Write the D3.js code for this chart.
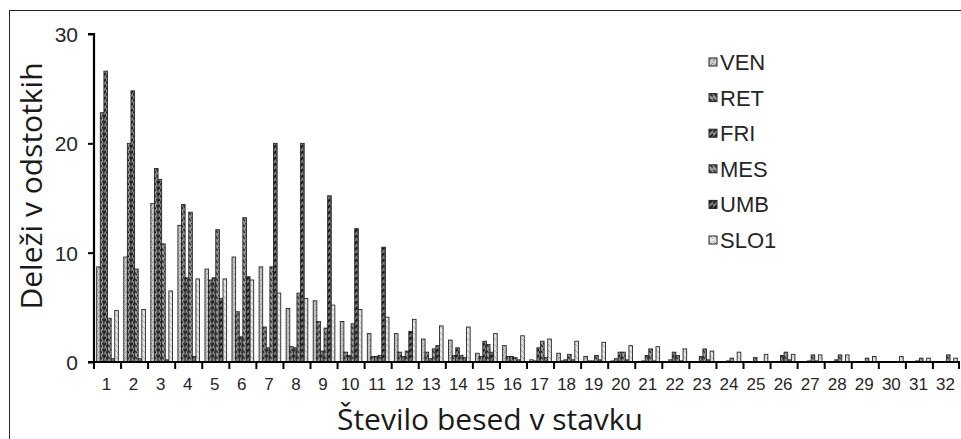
<!DOCTYPE html>
<html>
<head>
<meta charset="utf-8">
<script src="https://cdn.jsdelivr.net/npm/d3@7"></script>
<style>
  body { margin: 0; background: #fff; }
  svg { display: block; }
  .tick-label { font-family: "Liberation Sans", Arial, sans-serif; font-size: 17px; fill: #262626; }
  .y-label { font-size: 21px; }
  .title { font-family: "Open Sans", sans-serif; font-size: 30px; fill: #1a1a1a; }
  .legend text { font-family: "Liberation Sans", Arial, sans-serif; font-size: 22px; fill: #262626; }
</style>
</head>
<body>
<div id="chart"></div>
<script>
(function () {
  "use strict";

  // categories (number of words in a sentence)
  const categories = d3.range(1, 33).map(String);
  const seriesNames = ["VEN", "RET", "FRI", "MES", "UMB", "SLO1"];
  const yTicks = [0, 10, 20, 30];

  // values (percent)
  const VEN = [8.7, 9.6, 14.5, 12.5, 8.5, 9.6, 8.7, 4.9, 5.6, 3.7, 2.6, 2.6, 2.1, 2.0, 0.8, 1.5,
    0.2, 0.8, 0.5, 0.1, 0, 0, 0, 0, 0, 0, 0, 0, 0, 0, 0, 0];
  const RET = [22.8, 20.0, 17.7, 14.4, 7.5, 4.6, 3.2, 1.4, 3.7, 0.9, 0.5, 0.9, 0.9, 0.6, 0.5, 0.5,
    0.1, 0.1, 0.1, 0.3, 0.1, 0.2, 0, 0, 0, 0, 0, 0, 0, 0, 0, 0];
  const FRI = [26.6, 24.8, 16.7, 7.7, 7.7, 2.3, 1.3, 1.3, 1.0, 0.6, 0.5, 0.5, 0.3, 1.3, 1.9, 0.5,
    1.3, 0.2, 0.1, 0.9, 0.6, 0.9, 0.5, 0.1, 0.4, 0.6, 0.1, 0.2, 0, 0, 0.1, 0];
  const MES = [4.0, 8.5, 10.8, 13.7, 12.1, 13.2, 8.7, 6.3, 3.1, 3.5, 0.6, 1.0, 1.2, 0.6, 1.6, 0.4,
    1.9, 0.7, 0.6, 0.9, 1.2, 0.6, 1.2, 0.35, 0, 0.9, 0.65, 0.65, 0.35, 0, 0.35, 0.65];
  const UMB = [0.3, 0.3, 0.2, 0.5, 5.8, 7.8, 20.0, 20.0, 15.2, 12.2, 10.5, 2.8, 1.5, 0.4, 0.9, 0.2,
    0.4, 0.2, 0.2, 0.2, 0.1, 0.1, 0.2, 0, 0, 0.2, 0.1, 0, 0, 0, 0, 0];
  const SLO1 = [4.7, 4.8, 6.5, 7.6, 7.6, 7.5, 6.3, 5.8, 5.2, 4.8, 4.1, 3.9, 3.3, 3.2, 2.6, 2.4,
    2.1, 1.9, 1.8, 1.5, 1.4, 1.2, 1.0, 0.9, 0.7, 0.7, 0.65, 0.65, 0.5, 0.5, 0.35, 0.35];

  const seriesValues = [VEN, RET, FRI, MES, UMB, SLO1];

  const width = 961;
  const height = 439;
  const margin = { top: 34, right: 1, bottom: 77, left: 94 };

  const svg = d3.select("#chart")
    .append("svg")
    .attr("width", width)
    .attr("height", height);

  // hatch patterns, something like the excel fills
  const defs = svg.append("defs");
  const patterns = [
    { id: "p-ven", bg: "#c8c8c8", fg: "#8a8a8a", dir: 1, w: 1 },
    { id: "p-ret", bg: "#9a9a9a", fg: "#1e1e1e", dir: -1, w: 1.6 },
    { id: "p-fri", bg: "#8c8c8c", fg: "#1a1a1a", dir: 1, w: 1.8 },
    { id: "p-mes", bg: "#a0a0a0", fg: "#222", dir: -1, w: 1.4 },
    { id: "p-umb", bg: "#7c7c7c", fg: "#111", dir: 1, w: 1.8 },
    { id: "p-slo", bg: "#e6e6e6", fg: "#aaa", dir: -1, w: 1 }
  ];
  patterns.forEach((p) => {
    const pat = defs.append("pattern")
      .attr("id", p.id)
      .attr("patternUnits", "userSpaceOnUse")
      .attr("width", 4)
      .attr("height", 6);
    pat.append("rect").attr("width", 4).attr("height", 6).attr("fill", p.bg);
    pat.append("path")
      .attr("d", p.dir > 0 ? "M0,5 L4,1" : "M0,1 L4,5")
      .attr("stroke", p.fg)
      .attr("stroke-width", p.w);
  });

  // frame
  svg.append("rect")
    .attr("x", 9.5)
    .attr("y", 10.5)
    .attr("width", 960)
    .attr("height", 440)
    .attr("fill", "none")
    .attr("stroke", "#222")
    .attr("stroke-width", 1);

  const x0 = d3.scaleBand()
    .domain(categories)
    .range([margin.left, width - margin.right]);

  const x1 = d3.scaleBand()
    .domain(seriesNames)
    .range([0, x0.bandwidth()])
    .paddingOuter(0.75);

  const y = d3.scaleLinear()
    .domain([0, 30])
    .range([height - margin.bottom, margin.top]);

  // bars
  const groups = svg.append("g")
    .selectAll("g")
    .data(categories)
    .join("g")
    .attr("transform", (d) => `translate(${x0(d)},0)`);

  groups.selectAll("rect")
    .data((d, i) => seriesNames.map((s, j) => ({ s: s, j: j, v: seriesValues[j][i] })))
    .join("rect")
    .filter((d) => d.v > 0)
    .attr("x", (d) => x1(d.s))
    .attr("y", (d) => y(d.v))
    .attr("width", x1.bandwidth())
    .attr("height", (d) => y(0) - y(d.v))
    .attr("fill", (d) => `url(#${patterns[d.j].id})`)
    .attr("stroke", "#262626")
    .attr("stroke-width", 0.9);

  // y axis
  const yAxis = svg.append("g")
    .attr("transform", `translate(${margin.left},0)`)
    .call(d3.axisLeft(y).tickValues(yTicks).tickSize(6).tickPadding(10));
  yAxis.select(".domain").attr("stroke", "#000").attr("stroke-width", 2.2)
    .attr("d", `M-6,${y(30)}H0V${y(0)}`);
  yAxis.selectAll(".tick line").attr("stroke", "#000").attr("stroke-width", 2);
  yAxis.selectAll(".tick text").attr("class", "tick-label y-label").attr("dy", "0.35em");

  // x axis: boundary ticks + centered labels
  const xAxis = svg.append("g").attr("transform", `translate(0,${y(0)})`);
  xAxis.append("line")
    .attr("x1", margin.left - 6)
    .attr("x2", width - margin.right)
    .attr("stroke", "#000")
    .attr("stroke-width", 2.2);
  const bounds = categories.map((c) => x0(c)).concat([x0.range()[1] - 1]);
  xAxis.selectAll(".bt")
    .data(bounds)
    .join("line")
    .attr("class", "bt")
    .attr("x1", (d) => d)
    .attr("x2", (d) => d)
    .attr("y1", 0)
    .attr("y2", 7)
    .attr("stroke", "#000")
    .attr("stroke-width", 2);
  xAxis.selectAll(".tick-label")
    .data(categories)
    .join("text")
    .attr("class", "tick-label")
    .attr("x", (d) => x0(d) + x0.bandwidth() / 2 - 1)
    .attr("y", 28)
    .attr("text-anchor", "middle")
    .text((d) => d);

  // axis titles
  svg.append("text")
    .attr("class", "title")
    .attr("x", 490)
    .attr("y", 430)
    .attr("text-anchor", "middle")
    .text("Število besed v stavku");

  svg.append("text")
    .attr("class", "title")
    .attr("transform", "translate(42,186) rotate(-90)")
    .attr("text-anchor", "middle")
    .text("Deleži v odstotkih");

  // legend
  const legend = svg.append("g").attr("class", "legend");
  const items = legend.selectAll("g")
    .data(seriesNames)
    .join("g")
    .attr("transform", (d, i) => `translate(709,${62 + i * 35.6})`);
  items.append("rect")
    .attr("x", 0)
    .attr("y", -4)
    .attr("width", 8)
    .attr("height", 8)
    .attr("fill", (d, i) => `url(#${patterns[i].id})`)
    .attr("stroke", "#222")
    .attr("stroke-width", 1);
  items.append("text")
    .attr("x", 11)
    .attr("y", 0)
    .attr("dy", "0.36em")
    .text((d) => d);
})();
</script>
</body>
</html>
